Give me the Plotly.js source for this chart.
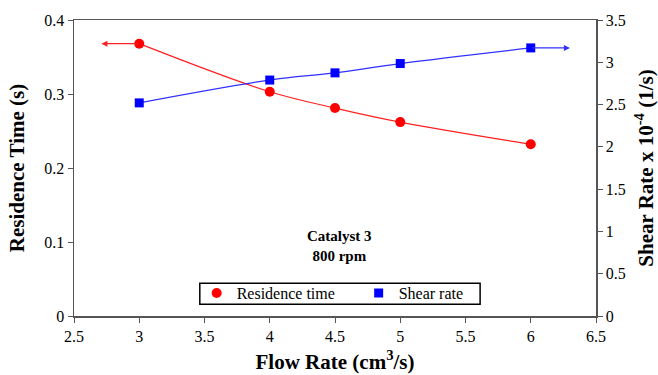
<!DOCTYPE html>
<html><head><meta charset="utf-8">
<script src="https://cdn.plot.ly/plotly-3.0.1.min.js"></script>
<style>body{margin:0;background:#fff}#c{width:658px;height:375px}</style>
</head><body><div id="c"></div>
<script>
const flowRate = [3, 4, 4.5, 5, 6];
const residenceTime = [0.368, 0.303, 0.281, 0.262, 0.232];
const shearRate = [2.52, 2.79, 2.875, 2.985, 3.17];
const redArrowX = [2.71, 3];
const blueArrowX = [6, 6.3];
const noteText = 'Catalyst 3<br>800 rpm';

const F = '"Liberation Serif", "Times New Roman", serif';
const tf = {family: F, size: 16, color: '#000'};
const traces = [
  {x: flowRate, y: residenceTime, mode: 'lines', line: {color: '#ff2020', width: 1.2, shape: 'spline'}, showlegend: false, yaxis: 'y'},
  {x: flowRate, y: shearRate, mode: 'lines', line: {color: '#3030ff', width: 1.2, shape: 'spline'}, showlegend: false, yaxis: 'y2'},
  {x: flowRate, y: residenceTime, mode: 'markers', name: 'Residence time', marker: {color: '#ff0000', size: 10, symbol: 'circle'}, yaxis: 'y'},
  {x: flowRate, y: shearRate, mode: 'markers', name: 'Shear rate', marker: {color: '#0000ff', size: 9, symbol: 'square'}, yaxis: 'y2'}
];
const layout = {
  width: 658, height: 375,
  margin: {l: 74, r: 62, t: 20, b: 59},
  paper_bgcolor: '#fff', plot_bgcolor: '#fff',
  font: tf,
  showlegend: true,
  legend: {orientation: 'h', x: 0.235, y: 0.135, xanchor: 'left', yanchor: 'top',
    borderwidth: 0, bgcolor: 'rgba(0,0,0,0)', entrywidth: 117, entrywidthmode: 'pixels',
    font: tf, itemwidth: 30, tracegroupgap: 0},
  xaxis: {range: [2.5, 6.5], dtick: 0.5, tick0: 2.5, showgrid: false, zeroline: false,
    showline: true, linecolor: '#555', linewidth: 1.5, mirror: true, tickfont: tf,
    ticks: 'outside', ticklen: 5, tickcolor: '#555',
    title: {text: 'Flow Rate (cm<sup>3</sup>/s)', font: {family: F, size: 21, weight: 'bold'}, standoff: 10}},
  yaxis: {range: [0, 0.4], dtick: 0.1, showgrid: false, zeroline: false,
    showline: true, linecolor: '#555', linewidth: 1.5, tickfont: tf,
    ticks: 'outside', ticklen: 5, tickcolor: '#555',
    title: {text: 'Residence Time (s)', font: {family: F, size: 21, weight: 'bold'}, standoff: 14}},
  yaxis2: {range: [0, 3.5], dtick: 0.5, overlaying: 'y', side: 'right', showgrid: false, zeroline: false,
    showline: true, linecolor: '#555', linewidth: 1.5, tickfont: tf,
    ticks: 'outside', ticklen: 5, tickcolor: '#555',
    title: {text: 'Shear Rate x 10<sup>-4</sup> (1/s)', font: {family: F, size: 21, weight: 'bold'}, standoff: 14}},
  shapes: [
    {type: 'rect', xref: 'paper', yref: 'paper', x0: 0.241, x1: 0.778, y0: 0.04, y1: 0.111,
     line: {color: '#000', width: 1.5}, fillcolor: 'rgba(0,0,0,0)', layer: 'below'}
  ],
  annotations: [
    {x: redArrowX[0], y: residenceTime[0], ax: redArrowX[1], ay: residenceTime[0], xref: 'x', yref: 'y', axref: 'x', ayref: 'y',
     showarrow: true, arrowhead: 2, arrowsize: 1, arrowwidth: 1.2, arrowcolor: '#ff2020', text: ''},
    {x: blueArrowX[1], y: shearRate[4], ax: blueArrowX[0], ay: shearRate[4], xref: 'x', yref: 'y2', axref: 'x', ayref: 'y2',
     showarrow: true, arrowhead: 2, arrowsize: 1, arrowwidth: 1.2, arrowcolor: '#3030ff', text: ''},
    {x: 0.508, y: 0.238, xref: 'paper', yref: 'paper', xanchor: 'center', yanchor: 'middle', text: noteText, showarrow: false,
     font: {family: F, size: 15, weight: 'bold'}, align: 'center'}
  ]
};
Plotly.newPlot('c', traces, layout, {displayModeBar: false, staticPlot: true});
</script></body></html>
